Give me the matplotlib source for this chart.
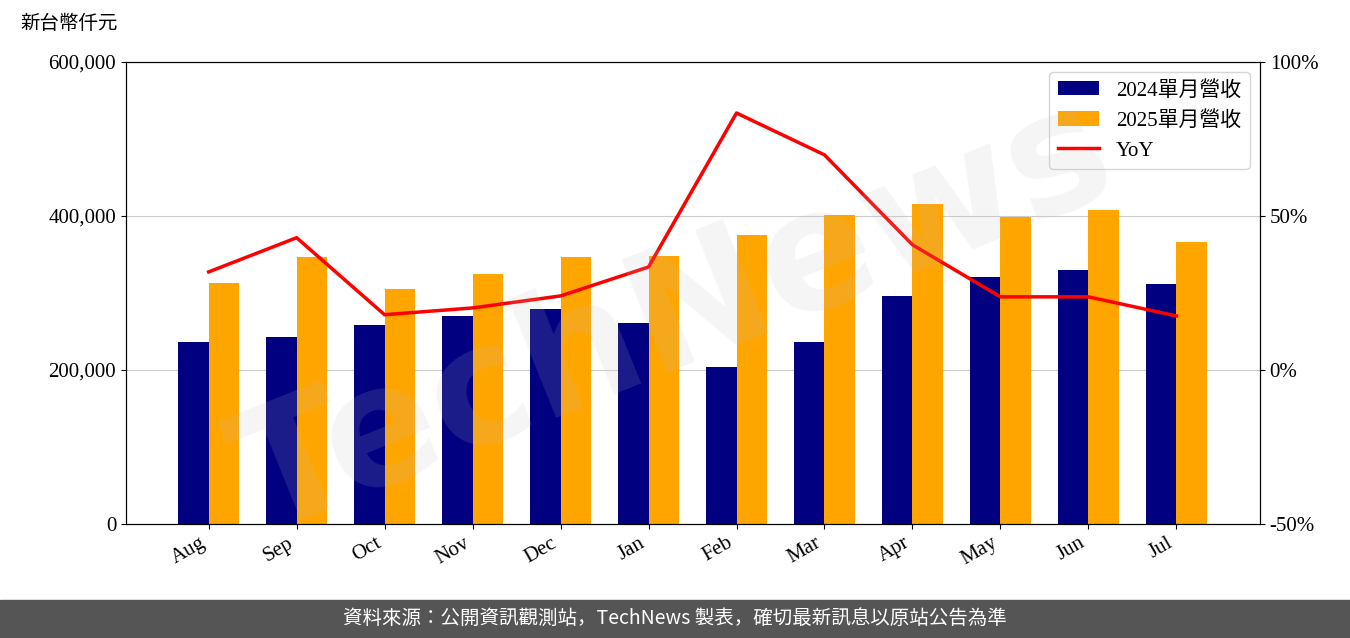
import matplotlib
matplotlib.use("Agg")
import matplotlib.pyplot as plt
from matplotlib import font_manager as fm
import numpy as np
from matplotlib.ticker import FuncFormatter

months = ["Aug","Sep","Oct","Nov","Dec","Jan","Feb","Mar","Apr","May","Jun","Jul"]
rev2024 = [236000,243000,258000,270000,279000,261000,204000,236000,296000,321000,330000,312000]
rev2025 = [313000,347000,305000,325000,347000,348000,375000,401000,416000,399000,408000,366000]
yoy = [31.8,42.9,17.9,20.1,24.0,33.4,83.4,69.8,40.6,23.7,23.7,17.5]

cjk = None
for f in fm.findSystemFonts():
    if "CJK" in f and ("Regular" in f or "regular" in f.lower()):
        cjk = f
        break
if cjk is None:
    for f in fm.findSystemFonts():
        if "CJK" in f:
            cjk = f
            break
if cjk:
    fm.fontManager.addfont(cjk)
    cjkname = fm.FontProperties(fname=cjk).get_name()
else:
    cjkname = "Noto Sans CJK TC"

plt.rcParams["font.family"] = ["Liberation Serif", cjkname]
fig = plt.figure(figsize=(13.5, 6.38), dpi=100)
ax = fig.add_axes([0.0933, 0.179, 0.84, 0.724])
x = np.arange(len(months))
w = 0.35
b1 = ax.bar(x - w/2, rev2024, w, color="#000080", zorder=2)
b2 = ax.bar(x + w/2, rev2025, w, color="#FFA500", zorder=2)
ax.set_ylim(0, 600000)
ax.set_yticks([0,200000,400000,600000])
ax.yaxis.set_major_formatter(FuncFormatter(lambda v, p: f"{int(v):,}"))
ax.grid(axis="y", color="#cccccc", zorder=0)
ax.set_xlim(-0.94, 11.95)
ax.set_xticks(x)
ax.set_xticklabels(months, rotation=30, ha="right")
ax.tick_params(labelsize=15)
ax2 = ax.twinx()
l, = ax2.plot(x, yoy, color="red", lw=2.5, zorder=3)
ax2.set_ylim(-50, 100)
ax2.set_yticks([-50,0,50,100])
ax2.yaxis.set_major_formatter(FuncFormatter(lambda v, p: f"{int(v)}%"))
ax2.tick_params(labelsize=15)
ax2.legend([b1, b2, l], ["2024單月營收","2025單月營收","YoY"], loc="upper right", fontsize=15)
fig.text(0.015, 0.955, "新台幣仟元", fontsize=14, family=cjkname)
fig.text(0.5, 0.5, "TechNews", fontsize=120, rotation=22, color="#c0c0c0", alpha=0.15,
         ha="center", va="center", family="DejaVu Sans", weight="bold", zorder=0)
fig.patches.append(plt.Rectangle((0, 0), 1, 0.059, transform=fig.transFigure, color="#555555"))
fig.text(0.5, 0.03, "資料來源：公開資訊觀測站，TechNews 製表，確切最新訊息以原站公告為準",
         color="white", fontsize=14, ha="center", va="center", family=cjkname)
fig.savefig("out.png")
